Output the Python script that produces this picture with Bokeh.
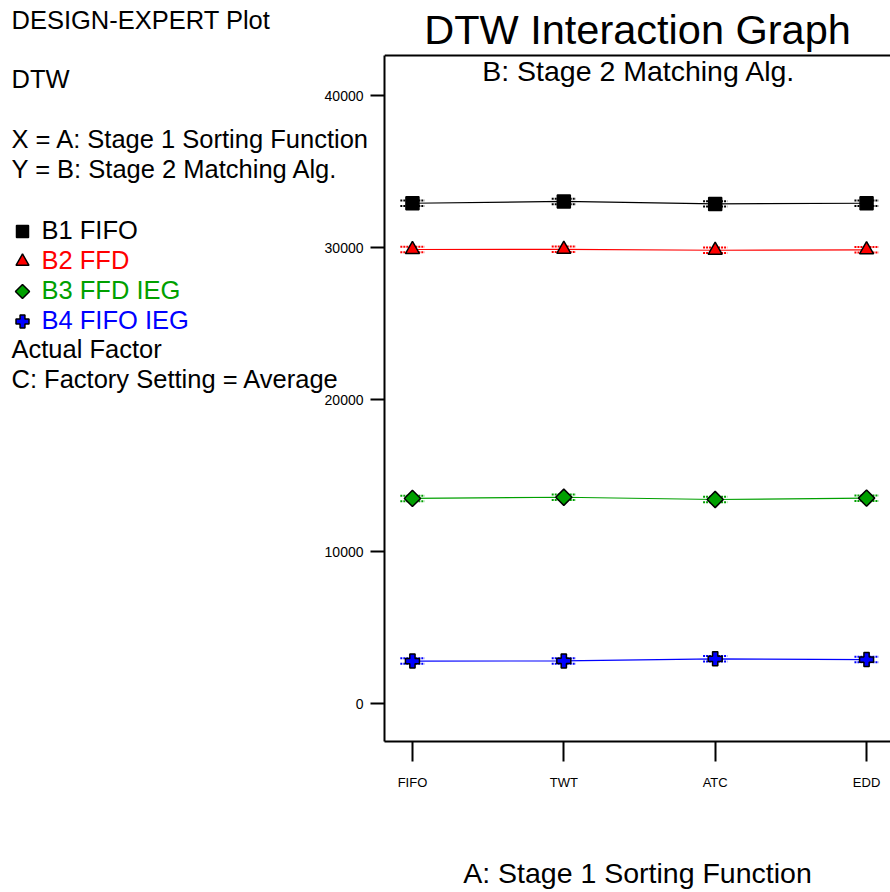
import math
from bokeh.plotting import figure
from bokeh.layouts import row
from bokeh.models import Range1d, FixedTicker, Label, Span
from bokeh.embed import file_html
from bokeh.resources import INLINE

# ---------------- data ----------------
categories = ["FIFO", "TWT", "ATC", "EDD"]
b1_fifo = [32910, 33030, 32870, 32910]
b2_ffd = [29870, 29880, 29820, 29850]
b3_ffd_ieg = [13490, 13570, 13420, 13510]
b4_fifo_ieg = [2790, 2800, 2940, 2890]
lsd_half = 180
y_ticks = [0, 10000, 20000, 30000, 40000]
series_names = ["B1 FIFO", "B2 FFD", "B3 FFD IEG", "B4 FIFO IEG"]
header_texts = ["DESIGN-EXPERT Plot", "DTW", "X = A: Stage 1 Sorting Function",
                "Y = B: Stage 2 Matching Alg."]
footer_texts = ["Actual Factor", "C: Factory Setting = Average"]
title_text = "DTW Interaction Graph"
subtitle_text = "B: Stage 2 Matching Alg."
xlabel_text = "A: Stage 1 Sorting Function"

FONT = "Liberation Sans"
colors = ["#000000", "#ff0000", "#00a000", "#0000ff"]
markers = ["square", "triangle", "square", "plus"]
angles = [0, 0, math.pi / 4, 0]
plot_sizes = [13, 14, 11.5, 14]
key_sizes = [12, 13, 10, 13]

# ---------------- layout constants (page pixels) ----------------
TOTAL_W, H = 890, 892
FRAME_L, FRAME_R = 383, 890
FRAME_T, FRAME_B = 0, 741
AX_W = 62                       # width of the main figure's y-axis panel
LEFT_W = FRAME_L                # left note panel (overlapped by the axis panel)
MAIN_W = TOTAL_W - (LEFT_W - AX_W)
PX_CAT = 151.67
XR = (1 - 28 / PX_CAT, 1 + (FRAME_R - FRAME_L - 28) / PX_CAT)
PX_PER_UNIT_Y = 0.0152
Y0_PAGE = 703
YR = (-(FRAME_B - Y0_PAGE) / PX_PER_UNIT_Y, (Y0_PAGE - FRAME_T) / PX_PER_UNIT_Y)
KEY_X, KEY_TEXT_X = 22, 41
KEY_ROWS = [231, 261, 291, 321]


def mdx(page_x):
    return XR[0] + (page_x - FRAME_L) * (XR[1] - XR[0]) / (FRAME_R - FRAME_L)


def mdy(page_y):
    return YR[1] - (page_y - FRAME_T) * (YR[1] - YR[0]) / (FRAME_B - FRAME_T)


# ---------------- left panel: notes and legend ----------------
left = figure(width=LEFT_W, height=H, x_range=Range1d(0, LEFT_W),
              y_range=Range1d(FRAME_B, FRAME_T),
              min_border_left=0, min_border_right=0, min_border_top=FRAME_T,
              min_border_bottom=H - FRAME_B, toolbar_location=None,
              output_backend="svg", x_axis_location=None, y_axis_location=None)
left.grid.visible = False
left.outline_line_color = None
left.background_fill_color = "white"
left.border_fill_color = "white"

for txt, yb in zip(header_texts + footer_texts, [19, 78, 138, 168, 348, 378]):
    left.add_layout(Label(x=11, y=yb, text=txt, text_font=FONT, text_font_size="25.5px",
                          text_color="black", text_baseline="alphabetic", text_align="left"))

# legend keys and labels
for name, color, marker, ang, ks, ky in zip(series_names, colors, markers, angles,
                                            key_sizes, KEY_ROWS):
    left.scatter(x=[KEY_X], y=[ky], marker=marker, angle=ang, size=ks,
                 fill_color=color, line_color="black", line_width=1.5)
    left.add_layout(Label(x=KEY_TEXT_X, y=ky - 2, text=name, text_font=FONT,
                          text_font_size="25.5px", text_color=color,
                          text_baseline="alphabetic", text_align="left"))

# ---------------- main plot ----------------
p = figure(width=MAIN_W, height=H, x_range=Range1d(*XR), y_range=Range1d(*YR),
           min_border_left=AX_W, min_border_right=0, min_border_top=FRAME_T,
           min_border_bottom=H - FRAME_B, toolbar_location=None, output_backend="svg")
p.grid.visible = False
p.outline_line_color = None
p.background_fill_color = "white"
p.border_fill_color = None
p.styles = {"margin-left": f"-{AX_W}px"}

xs = list(range(1, len(categories) + 1))
top_val = mdy(55)

xa = p.xaxis[0]
xa.ticker = FixedTicker(ticks=xs)
xa.major_label_overrides = {x: c for x, c in zip(xs, categories)}
xa.major_tick_out = 20
xa.major_tick_in = 0
xa.minor_tick_line_color = None
xa.axis_line_width = 2
xa.major_tick_line_width = 2
xa.major_label_text_font = FONT
xa.major_label_text_font_size = "13px"
xa.major_label_text_color = "black"
xa.major_label_standoff = 13
xa.axis_label = xlabel_text
xa.axis_label_text_font = FONT
xa.axis_label_text_font_size = "28.5px"
xa.axis_label_text_font_style = "normal"
xa.axis_label_text_color = "black"
xa.axis_label_standoff = 64

ya = p.yaxis[0]
ya.ticker = FixedTicker(ticks=y_ticks)
ya.bounds = (YR[0], top_val)
ya.major_tick_out = 14
ya.major_tick_in = 0
ya.minor_tick_line_color = None
ya.axis_line_width = 2
ya.major_tick_line_width = 2
ya.major_label_text_font = FONT
ya.major_label_text_font_size = "14px"
ya.major_label_text_color = "black"
ya.major_label_standoff = 7
ya.formatter.use_scientific = False

p.add_layout(Span(location=top_val, dimension="width", line_color="black", line_width=2))

series_vals = [b1_fifo, b2_ffd, b3_ffd_ieg, b4_fifo_ieg]
cap = 0.08
for vals, color, marker, ang, sz in zip(series_vals, colors, markers, angles, plot_sizes):
    p.line(xs, vals, line_color=color, line_width=1.2)
    for sgn in (-1, 1):
        p.segment(x0=[x - cap for x in xs], x1=[x + cap for x in xs],
                  y0=[v + sgn * lsd_half for v in vals],
                  y1=[v + sgn * lsd_half for v in vals],
                  line_color=color, line_width=2, line_dash="2 1")
    p.segment(x0=xs, x1=xs, y0=[v - lsd_half for v in vals],
              y1=[v + lsd_half for v in vals], line_color=color, line_width=2)
    p.scatter(xs, vals, marker=marker, angle=ang, size=sz, fill_color=color,
              line_color="black", line_width=1.5)

p.add_layout(Label(x=mdx(636.5), y=mdy(29), text=title_text, text_font=FONT,
                   text_font_size="41.5px", text_color="black",
                   text_baseline="alphabetic", text_align="center"))
p.add_layout(Label(x=mdx(638), y=mdy(70), text=subtitle_text, text_font=FONT,
                   text_font_size="28.5px", text_color="black",
                   text_baseline="alphabetic", text_align="center"))

layout = row(left, p)
open("out.html", "w").write(file_html(layout, INLINE))
